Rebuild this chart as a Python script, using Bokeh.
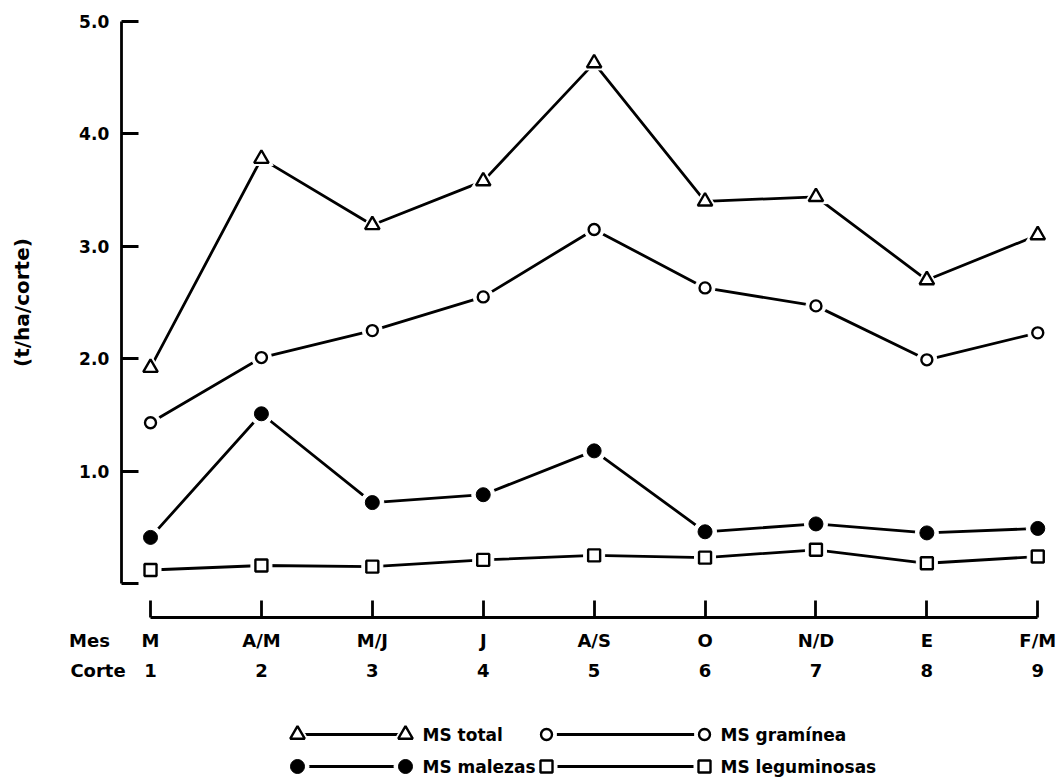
from bokeh.plotting import figure
from bokeh.models import Range1d, FixedTicker, LinearAxis, NumeralTickFormatter
from bokeh.layouts import column
from bokeh.embed import file_html
from bokeh.resources import INLINE
from bokeh.core.properties import value

# ---------------- data ----------------
corte = [1, 2, 3, 4, 5, 6, 7, 8, 9]
mes = ["M", "A/M", "M/J", "J", "A/S", "O", "N/D", "E", "F/M"]
ms_total = [1.92, 3.78, 3.19, 3.58, 4.63, 3.40, 3.44, 2.70, 3.10]
ms_graminea = [1.43, 2.01, 2.25, 2.55, 3.15, 2.63, 2.47, 1.99, 2.23]
ms_malezas = [0.41, 1.51, 0.72, 0.79, 1.18, 0.46, 0.53, 0.45, 0.49]
ms_leguminosas = [0.12, 0.16, 0.15, 0.21, 0.25, 0.23, 0.30, 0.18, 0.24]
y_ticks = [0, 1, 2, 3, 4, 5]
series_names = ["MS total", "MS gramínea", "MS malezas", "MS leguminosas"]
y_title = "(t/ha/corte)"
row_titles = ["Mes", "Corte"]

# ---------------- layout / style constants ----------------
FONT = "DejaVu Sans"
LW = 2.8
W = 1056
YAXIS_AT = 0.736               # x (data) where the y axis line stands
ROW_TITLE_AT = (0.45, 0.527)   # x (data) of the "Mes" / "Corte" row titles

# marker styles: (marker, size, fill, line_width)
styles = [
    ("triangle", 14.5, "white", 2.4),
    ("circle", 11, "white", 2.4),
    ("circle", 14, "black", 1.0),
    ("square", 12, "white", 2.4),
]
series = [ms_total, ms_graminea, ms_malezas, ms_leguminosas]

# ---------------- main plot ----------------
p = figure(frame_width=W, frame_height=617,
           x_range=Range1d(-0.3526, 9.169), y_range=Range1d(-0.3025, 5.187),
           x_axis_type=None, y_axis_type=None,
           output_backend="svg", toolbar_location=None,
           min_border_left=0, min_border_right=0,
           min_border_top=0, min_border_bottom=73)
p.outline_line_color = None
p.background_fill_color = "white"
p.border_fill_color = "white"

yax = LinearAxis(ticker=FixedTicker(ticks=y_ticks), bounds=(0, 5),
                 fixed_location=YAXIS_AT,
                 formatter=NumeralTickFormatter(format="0.0"),
                 major_label_overrides={0: ""},
                 major_tick_in=17, major_tick_out=0,
                 minor_tick_line_color=None,
                 axis_line_width=LW, major_tick_line_width=LW,
                 major_label_standoff=12,
                 major_label_text_font=FONT,
                 major_label_text_font_style="bold",
                 major_label_text_font_size="17px",
                 major_label_text_color="black",
                 axis_label=y_title,
                 axis_label_standoff=42,
                 axis_label_text_font=FONT,
                 axis_label_text_font_style="bold",
                 axis_label_text_font_size="20px",
                 axis_label_text_color="black")
p.add_layout(yax, "left")

# axis line with upward ticks, no labels
xa = LinearAxis(ticker=FixedTicker(ticks=corte), bounds=(1, 9),
                major_label_overrides={c: "" for c in corte},
                major_tick_in=17, major_tick_out=0,
                minor_tick_line_color=None,
                axis_line_width=LW, major_tick_line_width=LW,
                major_label_standoff=0,
                major_label_text_font_size="0px")
p.add_layout(xa, "below")

# row 1: months
mes_labels = {ROW_TITLE_AT[0]: row_titles[0]}
mes_labels.update({c: m for c, m in zip(corte, mes)})
xb = LinearAxis(ticker=FixedTicker(ticks=[ROW_TITLE_AT[0]] + corte),
                major_label_overrides=mes_labels,
                axis_line_color=None, major_tick_line_color=None,
                minor_tick_line_color=None,
                major_tick_in=0, major_tick_out=0,
                major_label_standoff=12,
                major_label_text_font=FONT,
                major_label_text_font_style="bold",
                major_label_text_font_size="18px",
                major_label_text_color="black")
p.add_layout(xb, "below")

# row 2: corte numbers
corte_labels = {ROW_TITLE_AT[1]: row_titles[1]}
corte_labels.update({c: str(c) for c in corte})
xc = LinearAxis(ticker=FixedTicker(ticks=[ROW_TITLE_AT[1]] + corte),
                major_label_overrides=corte_labels,
                axis_line_color=None, major_tick_line_color=None,
                minor_tick_line_color=None,
                major_tick_in=0, major_tick_out=0,
                major_label_standoff=6,
                major_label_text_font=FONT,
                major_label_text_font_style="bold",
                major_label_text_font_size="18px",
                major_label_text_color="black")
p.add_layout(xc, "below")

for vals, (mk, sz, fill, mlw) in zip(series, styles):
    p.line(corte, vals, line_color="black", line_width=LW)
    p.scatter(corte, vals, marker=mk, size=sz + 9, fill_color="white",
              line_color="white", line_width=1)
    p.scatter(corte, vals, marker=mk, size=sz, fill_color=fill,
              line_color="black", line_width=mlw)

# ---------------- legend (own small canvas below) ----------------
lg = figure(frame_width=W, frame_height=88,
            x_range=Range1d(0, W), y_range=Range1d(778, 690),
            x_axis_type=None, y_axis_type=None,
            output_backend="svg", toolbar_location=None,
            min_border=0)
lg.outline_line_color = None
lg.background_fill_color = "white"
lg.border_fill_color = "white"

# placement of the legend entries: (x_start, x_end, text_x, y)
leg_pos = [(297, 405, 422, 734), (546, 704, 720, 734),
           (297, 405, 422, 766), (546, 704, 720, 766)]
for name, (mk, sz, fill, mlw), (x0, x1, tx, yy) in zip(series_names, styles, leg_pos):
    lg.segment(x0=[x0], y0=[yy], x1=[x1], y1=[yy], line_color="black", line_width=LW)
    lg.scatter([x0, x1], [yy, yy], marker=mk, size=sz + 9, fill_color="white",
               line_color="white", line_width=1)
    lg.scatter([x0, x1], [yy, yy], marker=mk, size=sz, fill_color=fill,
               line_color="black", line_width=mlw)
    lg.text([tx], [yy], text=[name], text_font=value(FONT), text_font_style="bold",
            text_font_size="17px", text_baseline="middle", text_align="left",
            text_color="black")

layout = column(p, lg, spacing=0)
open("out.html", "w").write(file_html(layout, INLINE))
